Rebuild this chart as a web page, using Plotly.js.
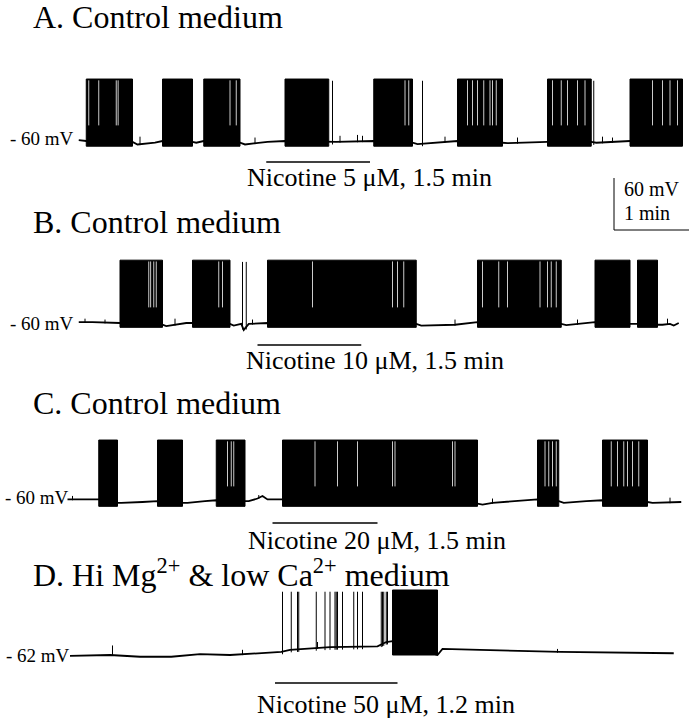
<!DOCTYPE html>
<html>
<head>
<meta charset="utf-8">
<script src="https://cdn.plot.ly/plotly-3.0.1.min.js"></script>
<style>
html, body { margin: 0; padding: 0; background: #fff; }
#plot { width: 689px; height: 720px; }
</style>
</head>
<body>
<div id="plot"></div>
<script>
// time in s from the start of trace A, membrane potential in mV
const panelTitles = ['A. Control medium', 'B. Control medium', 'C. Control medium',
    'D. Hi Mg<sup>2+</sup> &amp; low Ca<sup>2+</sup> medium'];
const restLabels = ['- 60 mV', '- 60 mV', '- 60 mV', '- 62 mV'];
const restMv = [-60, -60, -60, -62];
const drugLabels = ['Nicotine 5 μM, 1.5 min', 'Nicotine 10 μM, 1.5 min',
    'Nicotine 20 μM, 1.5 min', 'Nicotine 50 μM, 1.2 min'];
const drugOn = [149, 142, 154, 156];
const drugOff = [232, 225, 238, 254];
const burstLo = [-66, -65, -65, -62];
const burstHi = [11.5, 12.5, 11.5, 13];

// burst episodes [start, end]
const burstsA = [[5, 42], [66, 90], [99, 128], [164, 199], [235, 266], [302, 338], [374, 409], [440, 482]];
const burstsB = [[32, 66], [90, 120], [150, 269], [318, 385], [412, 440], [446, 462]];
const burstsC = [[15, 30], [62, 82], [109, 132], [162, 318], [366, 383], [418, 454]];
const burstsD = [[250, 286]];

// short pauses inside the bursts
const gapsA = [7, 15, 29, 30.5, 120, 125, 260, 263, 310, 314, 318, 323, 328, 330, 333, 378, 385, 390, 398, 404, 458, 466, 472, 478];
const gapsB = [55, 56.5, 59, 61, 111, 114, 186, 250, 254, 259, 322, 335, 342, 368, 374, 377, 381];
const gapsC = [118, 121, 123, 188, 206, 222, 250, 252, 298, 300, 372, 375, 378, 381, 425, 430, 435, 438, 442, 447];
const gapsD = [];

// single full spikes
const spikesA = [202, 274, 411];
const spikesB = [130, 133];
const spikesC = [];
const spikesD = [162, 169, 174, 175, 189, 196, 200, 204, 205, 206, 210, 219, 222, 226, 241, 242, 243, 245, 246];

// small deflections [time, peak]
const blipsA = [[48, -55], [140, -56], [208, -54], [222, -53], [226, -54], [292, -55], [350, -56], [418, -55], [426, -56]];
const blipsB = [[4, -55], [20, -56], [76, -55], [138, -56], [300, -56], [398, -56], [470, -55]];
const blipsC = [[-6, -53], [143, -52], [330, -56], [472, -55]];
const blipsD = [[26, -51], [130, -56], [190, -47], [270, -53], [382, -55]];

// resting trace between bursts
const baseTA = [-1, 5, 42, 46, 60, 66, 90, 93, 99, 128, 132, 150, 164, 199, 205, 235, 266, 270, 290, 302, 338, 342, 374, 409, 413, 440, 482];
const baseVA = [-59, -60, -61, -64, -62, -60, -61, -62, -60, -62, -64, -61, -60, -61, -61, -60, -62, -63.5, -61, -60, -62, -62.5, -61, -61, -62, -60, -60];
const baseTB = [-1, 10, 32, 66, 69, 85, 90, 120, 123, 129, 131, 135, 150, 269, 273, 300, 318, 385, 389, 405, 412, 440, 446, 462, 466, 472, 475, 479];
const baseVB = [-59, -59, -60, -62, -63.5, -60, -60, -61, -63, -61, -68, -61, -60, -61, -63, -62, -59, -61, -62.5, -60, -59, -61, -61, -62, -62, -61, -63, -60];
const baseTC = [-10, 0, 15, 30, 33, 50, 62, 82, 86, 100, 109, 132, 135, 142, 146, 150, 162, 318, 322, 330, 350, 366, 383, 387, 405, 418, 454, 458, 481];
const baseVC = [-57, -57, -57, -61, -61, -60, -59, -61, -61, -59, -58, -59, -59, -56, -53, -57, -57, -62, -63, -61, -59, -57, -59, -61, -59, -58, -60, -61, -60];
const baseTD = [-8, 24, 48, 73, 96, 120, 161, 168, 200, 238, 245, 250, 286, 290, 320, 384, 475];
const baseVD = [-63, -62, -64, -64, -61, -62, -58.5, -56, -53, -52, -47, -46, -62, -55, -56, -58.5, -60];

const panels = [
    { bursts: burstsA, gaps: gapsA, spikes: spikesA, blips: blipsA, t: baseTA, v: baseVA },
    { bursts: burstsB, gaps: gapsB, spikes: spikesB, blips: blipsB, t: baseTB, v: baseVB },
    { bursts: burstsC, gaps: gapsC, spikes: spikesC, blips: blipsC, t: baseTC, v: baseVC },
    { bursts: burstsD, gaps: gapsD, spikes: spikesD, blips: blipsD, t: baseTD, v: baseVD }
];

// page layout (pixels)
const W = 689, H = 720;
const restPx = [141, 323, 502, 655];
const pxPerMv = 52 / 60;
const titleY = [17, 222, 403, 573];
const labelY = [138, 323, 497, 655];
const labelX = [8, 8, 3, 4];
const drugBarPx = [162, 345, 523, 683];
const drugTextY = [177, 360, 540, 704];
const drugTextX = [245, 244, 246, 255];
const serif = 'Liberation Serif, Times New Roman, serif';

// where the drawn resting line sits at time t (foot of a spike)
function footOf(p, t) {
    for (let k = 1; k < p.t.length; k++) {
        if (t <= p.t[k]) {
            const f = (t - p.t[k - 1]) / (p.t[k] - p.t[k - 1]);
            return p.v[k - 1] + f * (p.v[k] - p.v[k - 1]);
        }
    }
    return p.v[p.v.length - 1];
}

const data = [];
const layout = {
    width: W, height: H,
    margin: { l: 0, r: 0, t: 0, b: 0 },
    paper_bgcolor: '#fff', plot_bgcolor: 'rgba(0,0,0,0)',
    showlegend: false,
    xaxis: { range: [-64, 487.2], visible: false, fixedrange: true },
    annotations: [],
    shapes: []
};

panels.forEach((p, i) => {
    const ya = i === 0 ? 'y' : 'y' + (i + 1);
    const lo = burstLo[i], hi = burstHi[i];

    // resting trace
    data.push({ x: p.t, y: p.v, yaxis: ya, mode: 'lines', line: { color: '#000', width: 1.8 }, hoverinfo: 'skip' });

    // small deflections
    const bx = [], by = [];
    p.blips.forEach(b => {
        bx.push(b[0], b[0], null);
        by.push(footOf(p, b[0]) - 1, b[1], null);
    });
    data.push({ x: bx, y: by, yaxis: ya, mode: 'lines', line: { color: '#000', width: 1 }, hoverinfo: 'skip' });

    // bursts as filled blocks
    const fx = [], fy = [];
    p.bursts.forEach(b => {
        fx.push(b[0], b[1], b[1], b[0], b[0], null);
        fy.push(lo, lo, hi, hi, lo, null);
    });
    data.push({ x: fx, y: fy, yaxis: ya, mode: 'lines', fill: 'toself', fillcolor: '#000',
        line: { color: '#000', width: 1 }, hoverinfo: 'skip' });

    // pauses inside bursts
    const gx = [], gy = [];
    p.gaps.forEach(g => { gx.push(g, g, null); gy.push(hi - 1.5, restMv[i] + 18, null); });
    data.push({ x: gx, y: gy, yaxis: ya, mode: 'lines', line: { color: '#fff', width: 0.8 }, hoverinfo: 'skip' });

    // single spikes
    const sx = [], sy = [];
    p.spikes.forEach(s => { sx.push(s, s, null); sy.push(footOf(p, s) - 3, hi - 2, null); });
    data.push({ x: sx, y: sy, yaxis: ya, mode: 'lines', line: { color: '#000', width: 1 }, hoverinfo: 'skip' });

    // nicotine application bar
    const barMv = restMv[i] - (drugBarPx[i] - restPx[i]) / pxPerMv;
    data.push({ x: [drugOn[i], drugOff[i]], y: [barMv, barMv], yaxis: ya, mode: 'lines',
        line: { color: '#000', width: 1.5 }, hoverinfo: 'skip' });

    const bottomPx = restPx[i] + 40 * pxPerMv;
    const topPx = restPx[i] - 100 * pxPerMv;
    layout[i === 0 ? 'yaxis' : 'yaxis' + (i + 1)] = {
        domain: [1 - bottomPx / H, 1 - topPx / H],
        range: [restMv[i] - 40, restMv[i] + 100],
        visible: false, fixedrange: true, anchor: 'x'
    };

    layout.annotations.push(
        { text: panelTitles[i], xref: 'paper', yref: 'paper', x: 31 / W, y: 1 - titleY[i] / H,
          xanchor: 'left', yanchor: 'middle', showarrow: false, font: { family: serif, size: 32, color: '#000' } },
        { text: restLabels[i], xref: 'paper', yref: 'paper', x: labelX[i] / W, y: 1 - labelY[i] / H,
          xanchor: 'left', yanchor: 'middle', showarrow: false, font: { family: serif, size: 19, color: '#000' } },
        { text: drugLabels[i], xref: 'paper', yref: 'paper', x: drugTextX[i] / W, y: 1 - drugTextY[i] / H,
          xanchor: 'left', yanchor: 'middle', showarrow: false, font: { family: serif, size: 26, color: '#000' } }
    );
});

// calibration: 60 mV, 1 min
const calX = 427.2, calMin = 60;
layout.shapes.push(
    { type: 'line', xref: 'x', yref: 'paper', x0: calX, x1: calX, y0: 1 - 178 / H, y1: 1 - 230 / H, line: { color: '#000', width: 1 } },
    { type: 'line', xref: 'x', yref: 'paper', x0: calX, x1: calX + calMin, y0: 1 - 230 / H, y1: 1 - 230 / H, line: { color: '#000', width: 1 } }
);
layout.annotations.push(
    { text: '60 mV', xref: 'paper', yref: 'paper', x: 622 / W, y: 1 - 189 / H, xanchor: 'left', yanchor: 'middle',
      showarrow: false, font: { family: serif, size: 20, color: '#000' } },
    { text: '1 min', xref: 'paper', yref: 'paper', x: 622 / W, y: 1 - 213 / H, xanchor: 'left', yanchor: 'middle',
      showarrow: false, font: { family: serif, size: 20, color: '#000' } }
);

Plotly.newPlot('plot', data, layout, { staticPlot: true });
</script>
</body>
</html>
